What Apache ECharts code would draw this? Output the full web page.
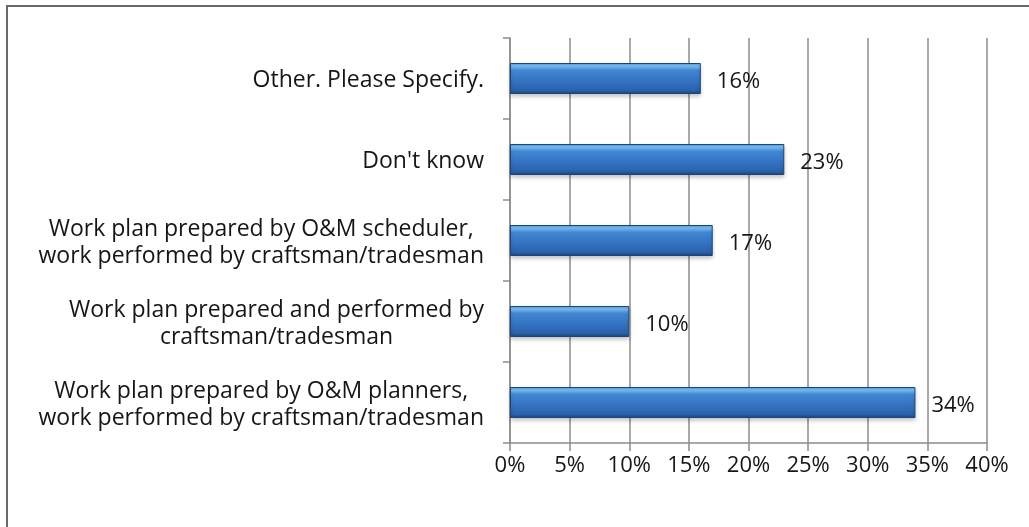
<!DOCTYPE html>
<html>
<head>
<meta charset="utf-8">
<script src="https://cdn.jsdelivr.net/npm/echarts@6/dist/echarts.min.js"></script>
<style>
  html, body { margin: 0; padding: 0; background: #fff; }
  #chart { width: 1029px; height: 527px; }
</style>
</head>
<body>
<div id="chart"></div>
<script>
// Survey responses, listed top to bottom
const categories = [
  "Other. Please Specify.",
  "Don't know",
  "Work plan prepared by O&M scheduler,\nwork performed by craftsman/tradesman",
  "Work plan prepared and performed by\ncraftsman/tradesman",
  "Work plan prepared by O&M planners,\nwork performed by craftsman/tradesman"
];
const shares = [16, 23, 17, 10, 34];
const axisMax = 40;
const axisStep = 5;

const FONT = '"Open Sans"';
const TEXT = '#161616';
const GRID = '#8c8c8c';

const chart = echarts.init(document.getElementById('chart'), null, { renderer: 'canvas' });

// Glossy blue fill: light highlight near the top edge, darker toward the bottom
const barFill = new echarts.graphic.LinearGradient(0, 0, 0, 1, [
  { offset: 0.00, color: '#4f95de' },
  { offset: 0.10, color: '#7cc0f6' },
  { offset: 0.24, color: '#4187d3' },
  { offset: 0.60, color: '#3372c1' },
  { offset: 0.88, color: '#2a62ab' },
  { offset: 1.00, color: '#1d4378' }
]);

chart.setOption({
  animation: false,
  backgroundColor: '#ffffff',
  graphic: [{
    type: 'rect',
    silent: true,
    shape: { x: 7, y: 6, width: 1200, height: 700 },
    style: { fill: 'none', stroke: '#6a6a6a', lineWidth: 2 },
    z: -1
  }],
  grid: { left: 510, right: 42, top: 38, bottom: 84, containLabel: false },
  xAxis: {
    type: 'value',
    min: 0,
    max: axisMax,
    interval: axisStep,
    axisLine: { show: true, lineStyle: { color: GRID, width: 1.5 } },
    axisTick: { show: true, length: 8, lineStyle: { color: GRID, width: 1.5 } },
    splitLine: { show: true, lineStyle: { color: GRID, width: 1.5 } },
    axisLabel: {
      formatter: v => v + '%',
      color: TEXT,
      fontFamily: FONT,
      fontSize: 22,
      margin: 12
    }
  },
  yAxis: {
    type: 'category',
    inverse: true,
    data: categories,
    boundaryGap: true,
    axisLine: { show: true, lineStyle: { color: GRID, width: 1.5 } },
    axisTick: { show: true, length: 7, lineStyle: { color: GRID, width: 1.5 } },
    splitLine: { show: false },
    axisLabel: {
      margin: 26,
      align: 'right',
      color: TEXT,
      fontFamily: FONT,
      fontSize: 23,
      lineHeight: 27,
      formatter: v => v.split('\n').map(l => '{c|' + l + '}').join('\n'),
      rich: {
        c: { align: 'center', fontFamily: FONT, fontSize: 23, lineHeight: 27, color: TEXT, padding: [4, 0, 0, 0] }
      }
    }
  },
  series: [{
    type: 'bar',
    data: shares,
    barWidth: 31,
    itemStyle: {
      color: barFill,
      borderColor: '#1c4479',
      borderWidth: 1,
      shadowColor: 'rgba(0,0,0,0.22)',
      shadowBlur: 4,
      shadowOffsetY: 2
    },
    label: {
      show: true,
      position: 'right',
      distance: 16,
      offset: [0, 3],
      formatter: p => p.value + '%',
      color: TEXT,
      fontFamily: FONT,
      fontSize: 22
    }
  }]
});
</script>
</body>
</html>
